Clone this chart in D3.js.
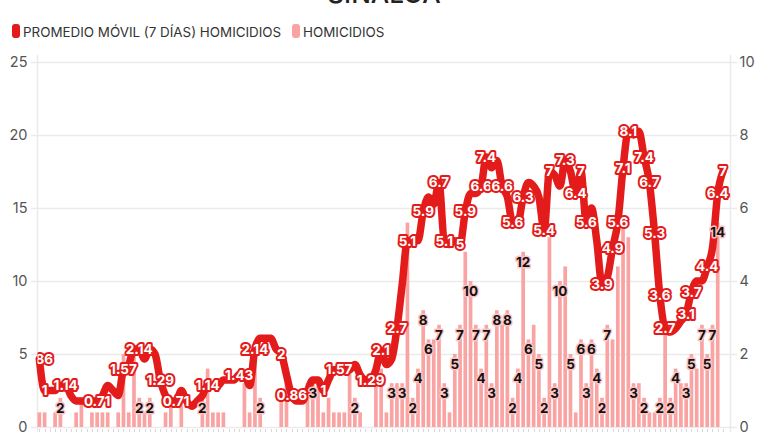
<!DOCTYPE html>
<html><head><meta charset="utf-8">
<script src="https://cdn.jsdelivr.net/npm/d3@7"></script>
<style>
html,body{margin:0;padding:0;background:#fff;}
svg{display:block;font-family:Inter,"Noto Sans",sans-serif;}
</style></head><body>
<svg id="chart" width="768" height="432"></svg>
<script>
const title = "SINALOA";
const seriesNames = ["PROMEDIO MÓVIL (7 DÍAS) HOMICIDIOS", "HOMICIDIOS"];
const seriesColors = ["#e31b1b", "#f9a3a3"];
const leftTicks = [0, 5, 10, 15, 20, 25];
const rightTicks = [0, 2, 4, 6, 8, 10];

// daily homicides (bars)
const homicides = [
 1,1,0,1,2,0,0,1,2,0, 1,1,1,1,0,1,5,1,5,2, 1,2,0,0,1,2,0,2,0,0,
 0,2,4,1,1,1,0,0,0,3, 1,5,2,0,0,0,2,3,0,0, 0,3,3,3,1,2,1,1,1,4,
 2,1,0,0,3,4,1,3,3,3, 14,2,4,8,6,6,7,3,1,5, 7,12,10,7,4,7,3,8,7,8,
 2,4,12,6,7,5,2,13,3,10, 11,5,1,6,3,6,4,2,7,6, 11,14,13,3,3,2,1,1,2,7,
 2,4,3,3,5,4,7,5,7,14, 0
];
// 7-day moving average (line)
const movingAvg = [
 1.86,1,1.0,1.0,1.14,1.14,0.86,0.71,0.71,0.71, 0.71,0.71,0.86,1.14,1.0,0.86,1.57,1.71,2.14,2.14,
 1.86,2.14,2.0,1.29,0.86,0.71,0.71,1.0,0.71,0.57, 0.71,0.86,1.14,1.14,1.14,1.29,1.29,1.29,1.43,1.43,
 1.14,2.14,2.43,2.43,2.43,2.14,2,1.43,0.86,0.71, 0.71,1.0,1.29,1.29,1,1.29,1.57,1.57,1.57,1.57,
 1.71,1.43,1.29,1.29,1.57,2.1,1.71,1.86,2.7,3.9, 5.1,5.1,5.1,5.9,6.3,6.1,6.7,5.1,5,5.1,
 5,5.9,6.4,6.4,6.6,7.4,7.1,7.3,6.6,6.3, 5.6,5.6,6.3,6.7,6.6,6.3,5.4,7,6.9,6.6,
 7.3,7,6.4,7,5.6,6,5.1,3.9,4.1,4.9, 5.6,7.1,8.1,8,8.1,7.4,6.7,5.3,3.6,2.7,
 2.6,2.7,2.9,3.1,3.7,4,4,4.4,4.9,6.4, 7
];
const days = homicides.map((d, i) => i + 1);
const avgLabelDays = [1,2,6,12,17,20,24,27,33,39,42,47,49,55,58,64,66,69,71,74,77,78,81,82,85,86,89,91,93,97,98,101,103,104,105,108,110,111,112,113,116,117,118,119,120,124,125,128,130,131];
const homLabelDays = [5,20,22,32,43,53,61,68,70,72,73,74,75,77,78,80,81,83,84,85,86,87,88,90,91,92,93,94,96,97,99,100,102,104,105,106,107,108,109,114,116,119,121,122,124,125,127,128,129,130];

const svg = d3.select("#chart");
const W = 768, H = 432;
const plotL = 37.5, plotR = 730.5, plotT = 62, plotB = 427;

const x = d3.scaleBand().domain(days).range([36.7, 725.6]).paddingInner(0.3).paddingOuter(0.15);
const yL = d3.scaleLinear().domain([0, 25]).range([plotB, plotT]);
const yR = d3.scaleLinear().domain([0, 10]).range([plotB, plotT]);
const cx = d => x(d) + x.bandwidth() / 2;

// title
svg.append("text").attr("x", 384).attr("y", 3).attr("text-anchor", "middle")
  .attr("font-size", 26).attr("font-weight", 500).attr("fill", "#222").text(title);

// legend
const leg = svg.append("g");
const legItems = [{x: 12, name: seriesNames[0], c: seriesColors[0]}, {x: 292, name: seriesNames[1], c: seriesColors[1]}];
legItems.forEach(it => {
  leg.append("rect").attr("x", it.x).attr("y", 24).attr("width", 8).attr("height", 14).attr("rx", 3).attr("fill", it.c);
  leg.append("text").attr("x", it.x + 11).attr("y", 36.5).attr("font-size", 13.4).attr("fill", "#333").text(it.name);
});

// grid
const grid = svg.append("g");
leftTicks.forEach(t => {
  grid.append("line").attr("x1", 31).attr("x2", 737).attr("y1", Math.round(yL(t)) + 0.5).attr("y2", Math.round(yL(t)) + 0.5)
    .attr("stroke", "#ebebeb").attr("stroke-width", 1.5);
});
[plotL, plotR].forEach(px => {
  grid.append("line").attr("x1", px).attr("x2", px).attr("y1", 55).attr("y2", 432)
    .attr("stroke", "#ebebeb").attr("stroke-width", 1.5);
});
// small day ticks at bottom
grid.selectAll(".dt").data(days).enter().append("line")
  .attr("x1", d => Math.round(cx(d)) + 0.5).attr("x2", d => Math.round(cx(d)) + 0.5)
  .attr("y1", 429).attr("y2", 433).attr("stroke", "#d8d8d8");

// axes
const axL = svg.append("g").attr("transform", `translate(${plotL},0)`)
  .call(d3.axisLeft(yL).tickValues(leftTicks).tickSize(0).tickPadding(10));
const axR = svg.append("g").attr("transform", `translate(${plotR},0)`)
  .call(d3.axisRight(yR).tickValues(rightTicks).tickSize(0).tickPadding(9));
[axL, axR].forEach(a => {
  a.select(".domain").remove();
  a.selectAll("text").attr("font-size", 14.5).attr("fill", "#555").attr("font-family", "Inter, sans-serif");
});

// clip
svg.append("clipPath").attr("id", "plotclip").append("rect")
  .attr("x", plotL).attr("y", 0).attr("width", plotR - plotL + 20).attr("height", H);

// bars
svg.append("g").selectAll("rect").data(days).enter().append("rect")
  .attr("x", d => x(d)).attr("width", x.bandwidth())
  .attr("y", (d, i) => yL(homicides[i])).attr("height", (d, i) => plotB - yL(homicides[i]))
  .attr("fill", seriesColors[1]);

// line
const line = d3.line().x((d, i) => cx(days[i])).y(d => yR(d)).curve(d3.curveMonotoneX);
svg.append("path").datum(movingAvg).attr("d", line).attr("fill", "none")
  .attr("stroke", seriesColors[0]).attr("stroke-width", 7.5).attr("stroke-linejoin", "round").attr("stroke-linecap", "round");

// bar labels
const bl = svg.append("g");
homLabelDays.forEach(d => {
  const v = homicides[days.indexOf(d)];
  bl.append("text").attr("x", cx(d)).attr("y", yL(v) + 10).attr("dy", "0.35em")
    .attr("text-anchor", "middle").attr("font-size", 13.5).attr("font-weight", 700)
    .attr("fill", "#111").attr("stroke", "#fbc4c4").attr("stroke-width", 3).attr("paint-order", "stroke")
    .attr("stroke-linejoin", "round").text(v);
});

// line labels
const ll = svg.append("g").attr("clip-path", "url(#plotclip)");
avgLabelDays.forEach(d => {
  const v = movingAvg[days.indexOf(d)];
  ll.append("text").attr("x", cx(d)).attr("y", yR(v)).attr("dy", "0.35em")
    .attr("text-anchor", "middle").attr("font-size", 13.5).attr("font-weight", 700)
    .attr("fill", "#fff").attr("stroke", seriesColors[0]).attr("stroke-width", 4).attr("paint-order", "stroke")
    .attr("stroke-linejoin", "round").text(v);
});
</script>
</body></html>
